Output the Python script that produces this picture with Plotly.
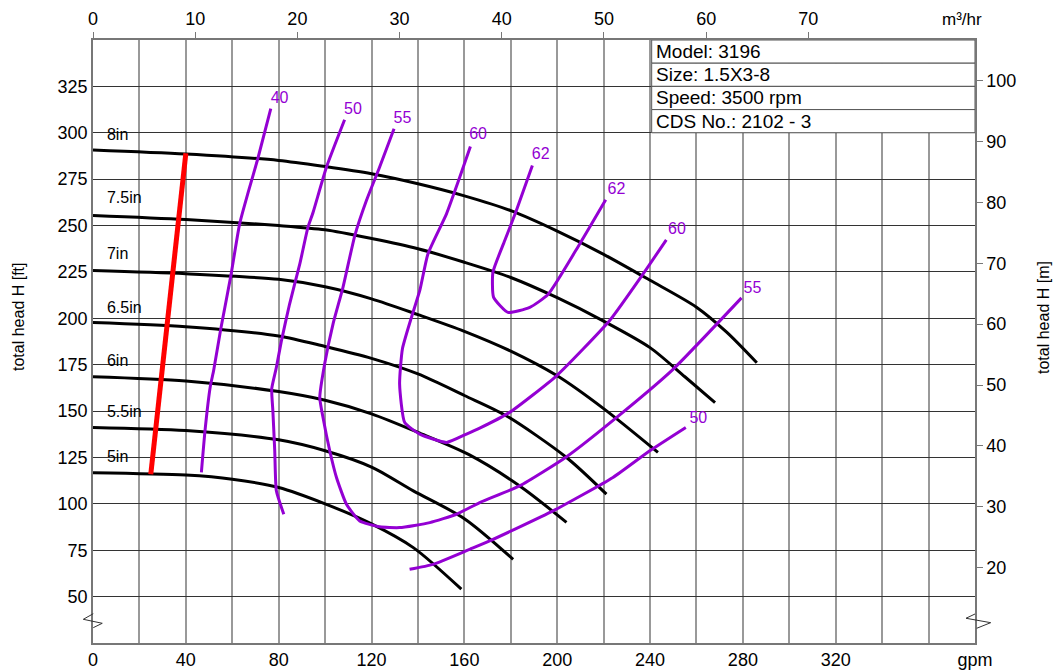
import plotly.graph_objects as go

# ---------------- data (gpm, ft) ----------------
imp_labels = ["8in", "7.5in", "7in", "6.5in", "6in", "5.5in", "5in"]

q_8in = [0, 40, 80, 100, 120, 140, 160, 180, 200, 220, 240, 260, 273, 286]
h_8in = [290.7, 288.5, 285.1, 281.8, 277.9, 272.5, 266, 258, 247, 234.5, 220.5, 206, 192.5, 176]

q_75in = [0, 40, 80, 100, 120, 140, 160, 180, 200, 220, 240, 255, 268]
h_75in = [255.4, 253.2, 250, 247.7, 243, 237.5, 230.2, 222, 211.1, 198.5, 184.2, 168.5, 154.6]

q_7in = [0, 40, 80, 100, 120, 140, 160, 180, 200, 220, 243.4]
h_7in = [225.7, 224, 221, 217, 210.5, 202, 193, 182.3, 169, 151.3, 127.7]

q_65in = [0, 40, 80, 100, 120, 140, 160, 178, 204, 221.2]
h_65in = [197.8, 195.5, 190.5, 184.8, 178.4, 170, 158.4, 147.5, 125, 105.2]

q_6in = [0, 40, 80, 100, 120, 140, 162, 184, 204]
h_6in = [168.5, 166.2, 160.5, 155.8, 148.5, 138.5, 126.5, 109.5, 90]

q_55in = [0, 40, 80, 100, 120, 138, 160, 181]
h_55in = [141.2, 139.5, 134.5, 128.6, 119.8, 107, 92, 70.1]

q_5in = [0, 40, 60, 80, 100, 120, 138, 158.7]
h_5in = [116.8, 115.5, 113.3, 108.8, 100, 89.2, 76.4, 54]

# minimum flow line (red)
q_min = [24.9, 40]
h_min = [116, 289]

# efficiency iso-lines (%)
q_e40 = [46.7, 48.3, 50.5, 52, 55, 59.4, 63.2, 67, 71, 76.6]
h_e40 = [117, 140, 163, 172, 194, 223, 251, 268.5, 286, 313]

q_e50a = [82.2, 79, 78.3, 77.5, 77, 79, 81.2, 84.7, 89.1, 92.6, 94.8, 100.6, 108.4]
h_e50a = [94.4, 107, 128.6, 150, 162, 173.5, 188, 207.7, 229.3, 249, 257, 281.5, 307]

q_e55 = [129.7, 123.5, 117.8, 112.8, 107.7, 103.4, 99.8, 97.7, 99.1, 102, 104.9, 109.2,
         114.9, 123.5, 132.1, 145.1, 156.6, 166.6, 183.8, 203.9, 225.5, 249.9, 279.4]
h_e55 = [302.2, 281.5, 263.5, 244.6, 216.7, 196.9, 175.4, 157.3, 146.5, 128.6, 114.2, 99.8,
         90.8, 87.6, 87.2, 89.9, 94.4, 100.7, 109.7, 125.3, 146.5, 172.5, 211]

q_e60 = [162.6, 158, 152.3, 144.3, 140.8, 137.2, 133.3, 132.1, 134.3, 140.8, 152.3, 160.9,
         166.6, 179.5, 199.7, 222.6, 237, 247]
h_e60 = [292.6, 276, 256.3, 234.7, 215, 200.5, 183.5, 164.6, 143.8, 137.6, 133.1, 137.6,
         140.8, 149.3, 169, 198.8, 223.9, 242.3]

q_e62 = [189.3, 182.4, 177.4, 172.3, 172.6, 178.8, 188.2, 196, 209.7, 220.9]
h_e62 = [282.4, 258.1, 241.9, 224.8, 211.3, 203.2, 205.9, 212.8, 240.1, 263.9]

q_e50b = [136.4, 146.5, 162.3, 170.9, 198.2, 224, 239.9, 255.4]
h_e50b = [64.7, 67.4, 75.5, 80, 96.2, 114.2, 128.6, 141.2]

eff_labels = ["40", "50", "55", "60", "62", "62", "60", "55", "50"]
eff_label_q = [80.4, 112, 133.3, 165.9, 192.9, 225.5, 251.6, 284.1, 260.8]
eff_label_h = [318.4, 312.4, 307.6, 298.6, 288.2, 268.9, 247.7, 215.8, 146]

imp_label_h = [298.5, 264.5, 234.3, 205, 176.2, 149.2, 124.6]

info_rows = ["Model: 3196", "Size: 1.5X3-8", "Speed: 3500 rpm", "CDS No.: 2102 - 3"]

x_ticks = list(range(0, 400, 20))
x_ticktext = [str(v) if (v % 40 == 0 and v <= 320) else "" for v in x_ticks]
x_ticktext[-1] = "gpm"
y_ticks = list(range(50, 350, 25))
m3h_ticks = list(range(0, 80, 10))
m_ticks = list(range(20, 110, 10))

GPM_PER_M3H = 4.40287
FT_PER_M = 3.28084
Q_MAX, H_MIN, H_MAX = 380, 25, 350

FONT = "Liberation Sans, Arial, sans-serif"
PURPLE = "#9400D3"

fig = go.Figure()

curves = [(q_8in, h_8in), (q_75in, h_75in), (q_7in, h_7in), (q_65in, h_65in),
          (q_6in, h_6in), (q_55in, h_55in), (q_5in, h_5in)]
for (q, h), name in zip(curves, imp_labels):
    fig.add_trace(go.Scatter(x=q, y=h, mode="lines", name=name,
                             line=dict(color="black", width=3, shape="spline", smoothing=0.8),
                             hoverinfo="skip"))

effs = [(q_e40, h_e40), (q_e50a, h_e50a), (q_e55, h_e55), (q_e60, h_e60),
        (q_e62, h_e62), (q_e50b, h_e50b)]
for q, h in effs:
    fig.add_trace(go.Scatter(x=q, y=h, mode="lines",
                             line=dict(color=PURPLE, width=3, shape="spline", smoothing=0.5),
                             hoverinfo="skip"))

fig.add_trace(go.Scatter(x=q_min, y=h_min, mode="lines",
                         line=dict(color="#ff0000", width=5), hoverinfo="skip"))

# efficiency labels
fig.add_trace(go.Scatter(x=eff_label_q, y=eff_label_h, mode="text", text=eff_labels,
                         textfont=dict(color=PURPLE, size=16, family=FONT),
                         textposition="middle center", hoverinfo="skip"))

# impeller labels
fig.add_trace(go.Scatter(x=[6.0] * len(imp_labels), y=imp_label_h, mode="text",
                         text=imp_labels, textposition="middle right",
                         textfont=dict(color="black", size=16, family=FONT), hoverinfo="skip"))

# invisible traces for secondary axes
fig.add_trace(go.Scatter(x=[0, Q_MAX / GPM_PER_M3H], y=[H_MIN, H_MAX], xaxis="x2", yaxis="y",
                         mode="markers", marker=dict(opacity=0), hoverinfo="skip"))
fig.add_trace(go.Scatter(x=[0, Q_MAX], y=[H_MIN / FT_PER_M, H_MAX / FT_PER_M], xaxis="x", yaxis="y2",
                         mode="markers", marker=dict(opacity=0), hoverinfo="skip"))

shapes = []
# info table
tbl_x0 = 240.7
row_h = 12.5
for i in range(4):
    y1 = H_MAX - i * row_h
    y0 = y1 - row_h
    shapes.append(dict(type="rect", xref="x", yref="y", x0=tbl_x0, x1=Q_MAX, y0=y0, y1=y1,
                       fillcolor="white", line=dict(color="#555555", width=1), layer="above"))

# axis-break zigzags (paper coordinates; plot area spans 882 x 603 px)
def px2paper(px, py):
    return (px - 93) / 882, (643 - py) / 603

for pts in ([(93.3, 613.7), (83.3, 619.3), (102.3, 623.3), (93.3, 627.7)],
            [(975, 614), (966, 618.3), (990.7, 622.7), (976.7, 628.3)]):
    pp = [px2paper(*p) for p in pts]
    path = "M " + " L ".join(f"{a:.4f},{b:.4f}" for a, b in pp)
    shapes.append(dict(type="path", xref="paper", yref="paper", path=path,
                       line=dict(color="#333333", width=1), layer="above"))

annotations = []
for i, txt in enumerate(info_rows):
    annotations.append(dict(x=tbl_x0 + 0.9, y=H_MAX - (i + 0.5) * row_h, xref="x", yref="y",
                            text=txt, showarrow=False, xanchor="left", yanchor="middle",
                            font=dict(size=19, family=FONT, color="black")))

annotations.append(dict(x=(962 - 93) / 882, y=(643 - 20) / 603, xref="paper", yref="paper",
                        text="m³/hr", showarrow=False, xanchor="center", yanchor="middle",
                        font=dict(size=17, family=FONT, color="black")))
annotations.append(dict(x=(18 - 93) / 882, y=(643 - 317) / 603, xref="paper", yref="paper",
                        text="total head H [ft]", textangle=-90, showarrow=False,
                        xanchor="center", yanchor="middle",
                        font=dict(size=16, family=FONT, color="black")))
annotations.append(dict(x=(1043 - 93) / 882, y=(643 - 318) / 603, xref="paper", yref="paper",
                        text="total head H [m]", textangle=-90, showarrow=False,
                        xanchor="center", yanchor="middle",
                        font=dict(size=16, family=FONT, color="black")))

# the page body has an 8px margin, so the figure is offset by 8px
fig.update_layout(
    width=1054, height=663,
    margin=dict(l=85, r=87, t=32, b=28, autoexpand=False),
    paper_bgcolor="white", plot_bgcolor="white",
    showlegend=False,
    font=dict(family=FONT, size=18, color="black"),
    xaxis=dict(range=[0, Q_MAX], tickmode="array", tickvals=x_ticks, ticktext=x_ticktext,
               showgrid=True, gridcolor="#999999", gridwidth=1.5, zeroline=False,
               showline=True, linecolor="#777777", linewidth=1.5, mirror=False,
               ticks="", tickfont=dict(size=18), automargin=False),
    xaxis2=dict(range=[0, Q_MAX / GPM_PER_M3H], overlaying="x", side="top", anchor="y",
                tickmode="array", tickvals=m3h_ticks, showgrid=False, zeroline=False,
                showline=True, linecolor="#777777", linewidth=1.5,
                ticks="outside", ticklen=6, tickcolor="#777777", tickfont=dict(size=18),
                automargin=False),
    yaxis=dict(range=[H_MIN, H_MAX], tickmode="array", tickvals=y_ticks,
               showgrid=True, gridcolor="#333333", gridwidth=1, zeroline=False,
               showline=True, linecolor="#777777", linewidth=1.5, ticks="",
               tickfont=dict(size=18), automargin=False),
    yaxis2=dict(range=[H_MIN / FT_PER_M, H_MAX / FT_PER_M], overlaying="y", side="right",
                anchor="x", tickmode="array", tickvals=m_ticks, showgrid=False, zeroline=False,
                showline=True, linecolor="#777777", linewidth=1.5,
                ticks="outside", ticklen=6, tickcolor="#777777", tickfont=dict(size=18),
                automargin=False),
    shapes=shapes,
    annotations=annotations,
)

fig.write_html("out.html")
